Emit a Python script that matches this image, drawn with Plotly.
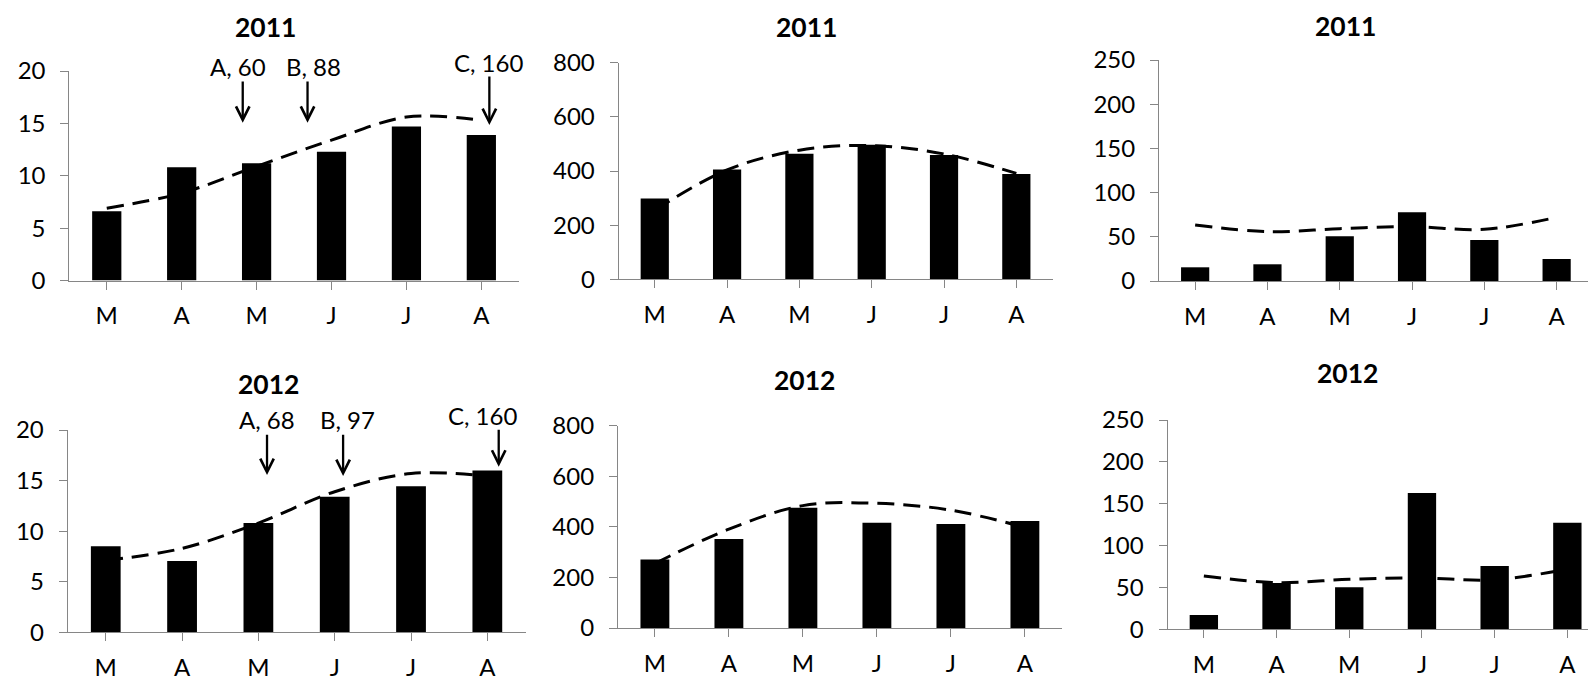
import plotly.graph_objects as go

W, H = 1588, 678

months = ["M", "A", "M", "J", "J", "A"]

# 2011 season
temp_2011 = [6.6, 10.8, 11.2, 12.3, 14.7, 13.9]
temp_norm_2011 = [6.9, 8.35, 10.9, 13.4, 15.6, 15.3]
rad_2011 = [298, 406, 464, 497, 459, 389]
rad_norm_2011 = [255, 404, 477, 494, 463, 391]
rain_2011 = [15.5, 18.9, 50.5, 77.7, 46.4, 24.9]
rain_norm_2011 = [63.3, 55.8, 59.2, 61.5, 58.4, 72.0]

# 2012 season
temp_2012 = [8.5, 7.05, 10.8, 13.4, 14.45, 16.0]
temp_norm_2012 = [7.1, 8.3, 10.8, 13.9, 15.7, 15.45]
rad_2012 = [271, 352, 476, 416, 411, 423]
rad_norm_2012 = [255, 391, 484, 493, 466, 398]
rain_2012 = [17.1, 55.3, 50.2, 162.8, 75.6, 127.4]
rain_norm_2012 = [63.7, 55.7, 59.7, 61.3, 59.1, 72.0]

# growth stage markers (label, day)
stages_2011 = ["A, 60", "B, 88", "C, 160"]
stages_2012 = ["A, 68", "B, 97", "C, 160"]
# arrow position along the month axis, arrow tip / tail heights, label position
stage_x_2011 = [1.815, 2.68, 5.107]
stage_tip_2011 = [15.06, 15.06, 14.84]
stage_tail_2011 = [19.14, 19.14, 19.62]
stage_text_x_2011 = [1.756, 2.758, 5.10]
stage_text_y_2011 = [20.41, 20.41, 20.81]

stage_x_2012 = [2.113, 3.11, 5.149]
stage_tip_2012 = [15.55, 15.45, 16.37]
stage_tail_2012 = [19.67, 19.67, 20.17]
stage_text_x_2012 = [2.113, 3.163, 4.935]
stage_text_y_2012 = [20.99, 20.99, 21.48]

y_max = [20, 800, 250]
y_dtick = [5, 200, 50]

FONT = "Lato"
AXIS_GREY = "#868686"

# plot-area boxes in pixels: (left, right, top, bottom, visible x-range end)
boxes = [
    (69.3, 518.8, 71.0, 280.5, 5.5),
    (618.6, 1052.5, 62.7, 279.3, 5.5),
    (1159.0, 1588.0, 60.0, 281.0, 5.434),
    (67.6, 525.5, 430.0, 632.3, 5.5),
    (617.9, 1061.9, 425.7, 628.0, 5.5),
    (1167.5, 1588.0, 420.0, 629.3, 5.284),
]

# title centres in pixels
title_pos = [
    (265.0, 26.7), (806.7, 27.0), (1345.5, 26.5),
    (268.5, 383.5), (804.5, 380.0), (1347.3, 373.3),
]
titles = ["2011", "2011", "2011", "2012", "2012", "2012"]

bars = [temp_2011, rad_2011, rain_2011, temp_2012, rad_2012, rain_2012]
norms = [temp_norm_2011, rad_norm_2011, rain_norm_2011,
         temp_norm_2012, rad_norm_2012, rain_norm_2012]

fig = go.Figure()
annotations = []


def px_x(p):
    return p / W


def px_y(p):
    return (H - p) / H


for i in range(6):
    n = i + 1
    xa = "x" if n == 1 else f"x{n}"
    ya = "y" if n == 1 else f"y{n}"
    col = i % 3
    left, right, top, bottom, x_end = boxes[i]

    # long-term average as a smoothed dashed line
    fig.add_trace(go.Scatter(
        x=list(range(6)), y=norms[i], mode="lines",
        line=dict(color="black", width=3, dash="17px,9px", shape="spline", smoothing=1.0),
        xaxis=xa, yaxis=ya, showlegend=False, hoverinfo="skip",
    ))
    fig.add_trace(go.Bar(
        x=list(range(6)), y=bars[i], width=0.39,
        marker=dict(color="black", line=dict(width=0)),
        xaxis=xa, yaxis=ya, showlegend=False, hoverinfo="skip",
    ))

    xkey = "xaxis" if n == 1 else f"xaxis{n}"
    ykey = "yaxis" if n == 1 else f"yaxis{n}"
    fig.update_layout({
        xkey: dict(
            domain=[px_x(left), px_x(right)], anchor=ya,
            range=[-0.5, x_end], tickmode="array",
            tickvals=list(range(6)), ticktext=months,
            tickson="boundaries", ticks="outside", ticklen=8,
            tickcolor=AXIS_GREY, tickwidth=1,
            showline=True, linecolor=AXIS_GREY, linewidth=1,
            showgrid=False, zeroline=False, automargin=False,
            tickfont=dict(family=FONT, size=24, color="black"),
            ticklabelstandoff=6, fixedrange=True,
        ),
        ykey: dict(
            domain=[px_y(bottom), px_y(top)], anchor=xa,
            range=[0, y_max[col]], dtick=y_dtick[col], tick0=0,
            ticks="outside", ticklen=8, tickcolor=AXIS_GREY, tickwidth=1,
            showline=True, linecolor=AXIS_GREY, linewidth=1,
            showgrid=False, zeroline=False, automargin=False,
            tickfont=dict(family=FONT, size=24, color="black"),
            ticklabelstandoff=10, fixedrange=True,
        ),
    })

    tx, ty = title_pos[i]
    annotations.append(dict(
        text=f"<b>{titles[i]}</b>", x=px_x(tx), y=px_y(ty),
        xref="paper", yref="paper", xanchor="center", yanchor="middle",
        showarrow=False, font=dict(family=FONT, size=26.5, color="black"),
    ))


def add_stages(xa, ya, ymax, labels, xs, tips, tails, text_x, text_y):
    for lab, x, tip, tail, lx, ly in zip(labels, xs, tips, tails, text_x, text_y):
        annotations.append(dict(
            text="", x=x, y=tip, xref=xa, yref=ya,
            ax=x, ay=tail, axref=xa, ayref=ya,
            showarrow=True, arrowhead=5, arrowsize=1.15, arrowwidth=2.3,
            arrowcolor="black",
        ))
        annotations.append(dict(
            text=lab, x=lx, y=ly / ymax, xref=xa, yref=f"{ya} domain",
            xanchor="center", yanchor="middle", showarrow=False,
            font=dict(family=FONT, size=24, color="black"),
        ))


add_stages("x", "y", y_max[0], stages_2011, stage_x_2011, stage_tip_2011,
           stage_tail_2011, stage_text_x_2011, stage_text_y_2011)
add_stages("x4", "y4", y_max[0], stages_2012, stage_x_2012, stage_tip_2012,
           stage_tail_2012, stage_text_x_2012, stage_text_y_2012)

fig.update_layout(
    template="none",
    width=W, height=H, margin=dict(l=0, r=0, t=0, b=0, autoexpand=False),
    paper_bgcolor="white", plot_bgcolor="white",
    bargap=0.61, annotations=annotations, showlegend=False,
    font=dict(family=FONT, color="black"),
)

fig.write_html("out.html", config={"displayModeBar": False})
